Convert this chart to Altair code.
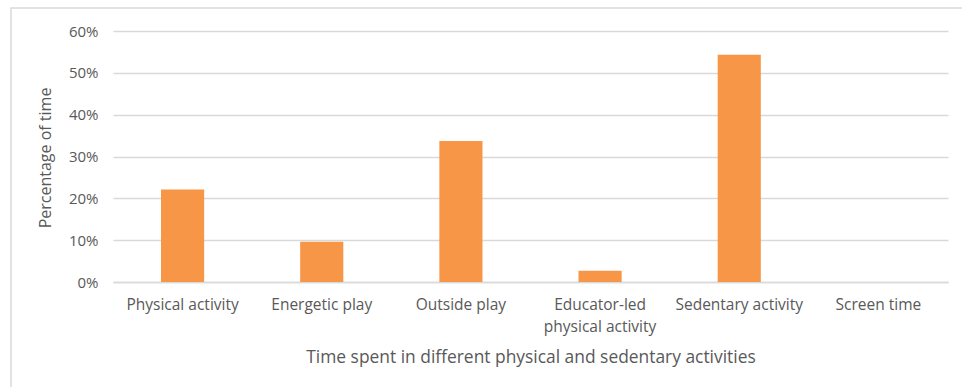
import altair as alt
import pandas as pd

# Share of time spent in each activity type
categories = [
    "Physical activity",
    "Energetic play",
    "Outside play",
    "Educator-led physical activity",
    "Sedentary activity",
    "Screen time",
]
shares = [0.221, 0.096, 0.337, 0.027, 0.543, 0.0]

df = pd.DataFrame({"activity": categories, "share": shares})

FONT = "Open Sans"
TEXT = "#595959"
GRID = "#D9D9D9"
BAR = "#F79646"

W, H = 835, 251

label_expr = (
    "datum.label == 'Educator-led physical activity' ? "
    "['Educator-led', 'physical activity'] : datum.label"
)

bars = alt.Chart(df).mark_bar(color=BAR).encode(
    x=alt.X(
        "activity:N",
        sort=categories,
        scale=alt.Scale(paddingInner=0.69, paddingOuter=0.345),
        axis=alt.Axis(
            title="Time spent in different physical and sedentary activities",
            labelAngle=0,
            labelExpr=label_expr,
            labelFont=FONT,
            labelFontSize=15.5,
            labelColor=TEXT,
            labelPadding=15,
            labelLineHeight=22.5,
            labelBaseline="top",
            ticks=False,
            domainColor=GRID,
            domainWidth=1.5,
            titleFont=FONT,
            titleFontSize=17.4,
            titleFontWeight="normal",
            titleColor=TEXT,
            titleBaseline="middle",
            titleY=75,
        ),
    ),
    y=alt.Y(
        "share:Q",
        scale=alt.Scale(domain=[0, 0.6]),
        axis=alt.Axis(
            title="Percentage of time",
            format=".0%",
            values=[0, 0.1, 0.2, 0.3, 0.4, 0.5, 0.6],
            labelFont=FONT,
            labelFontSize=15,
            labelColor=TEXT,
            labelPadding=15,
            ticks=False,
            domain=False,
            gridColor=GRID,
            gridWidth=1.5,
            titleFont=FONT,
            titleFontSize=16,
            titleFontWeight="normal",
            titleColor=TEXT,
            titleBaseline="middle",
            titleX=-68,
            titleY=H / 2 + 1,
        ),
    ),
)

# light frame around the whole figure
frame = alt.Chart(pd.DataFrame({"f": [0]})).mark_rect(
    fill=None, stroke=GRID, strokeWidth=1.5
).encode(
    x=alt.value(-102),
    x2=alt.value(W + 40),
    y=alt.value(-23),
    y2=alt.value(H + 200),
)

chart = (
    alt.layer(frame, bars)
    .properties(
        width=W,
        height=H,
        autosize=alt.AutoSizeParams(type="none"),
        padding={"left": 113, "top": 31, "right": 14, "bottom": 105},
        background="white",
    )
    .configure_view(stroke=None)
)

chart.save("out.html", embed_options={"renderer": "svg", "actions": False})
